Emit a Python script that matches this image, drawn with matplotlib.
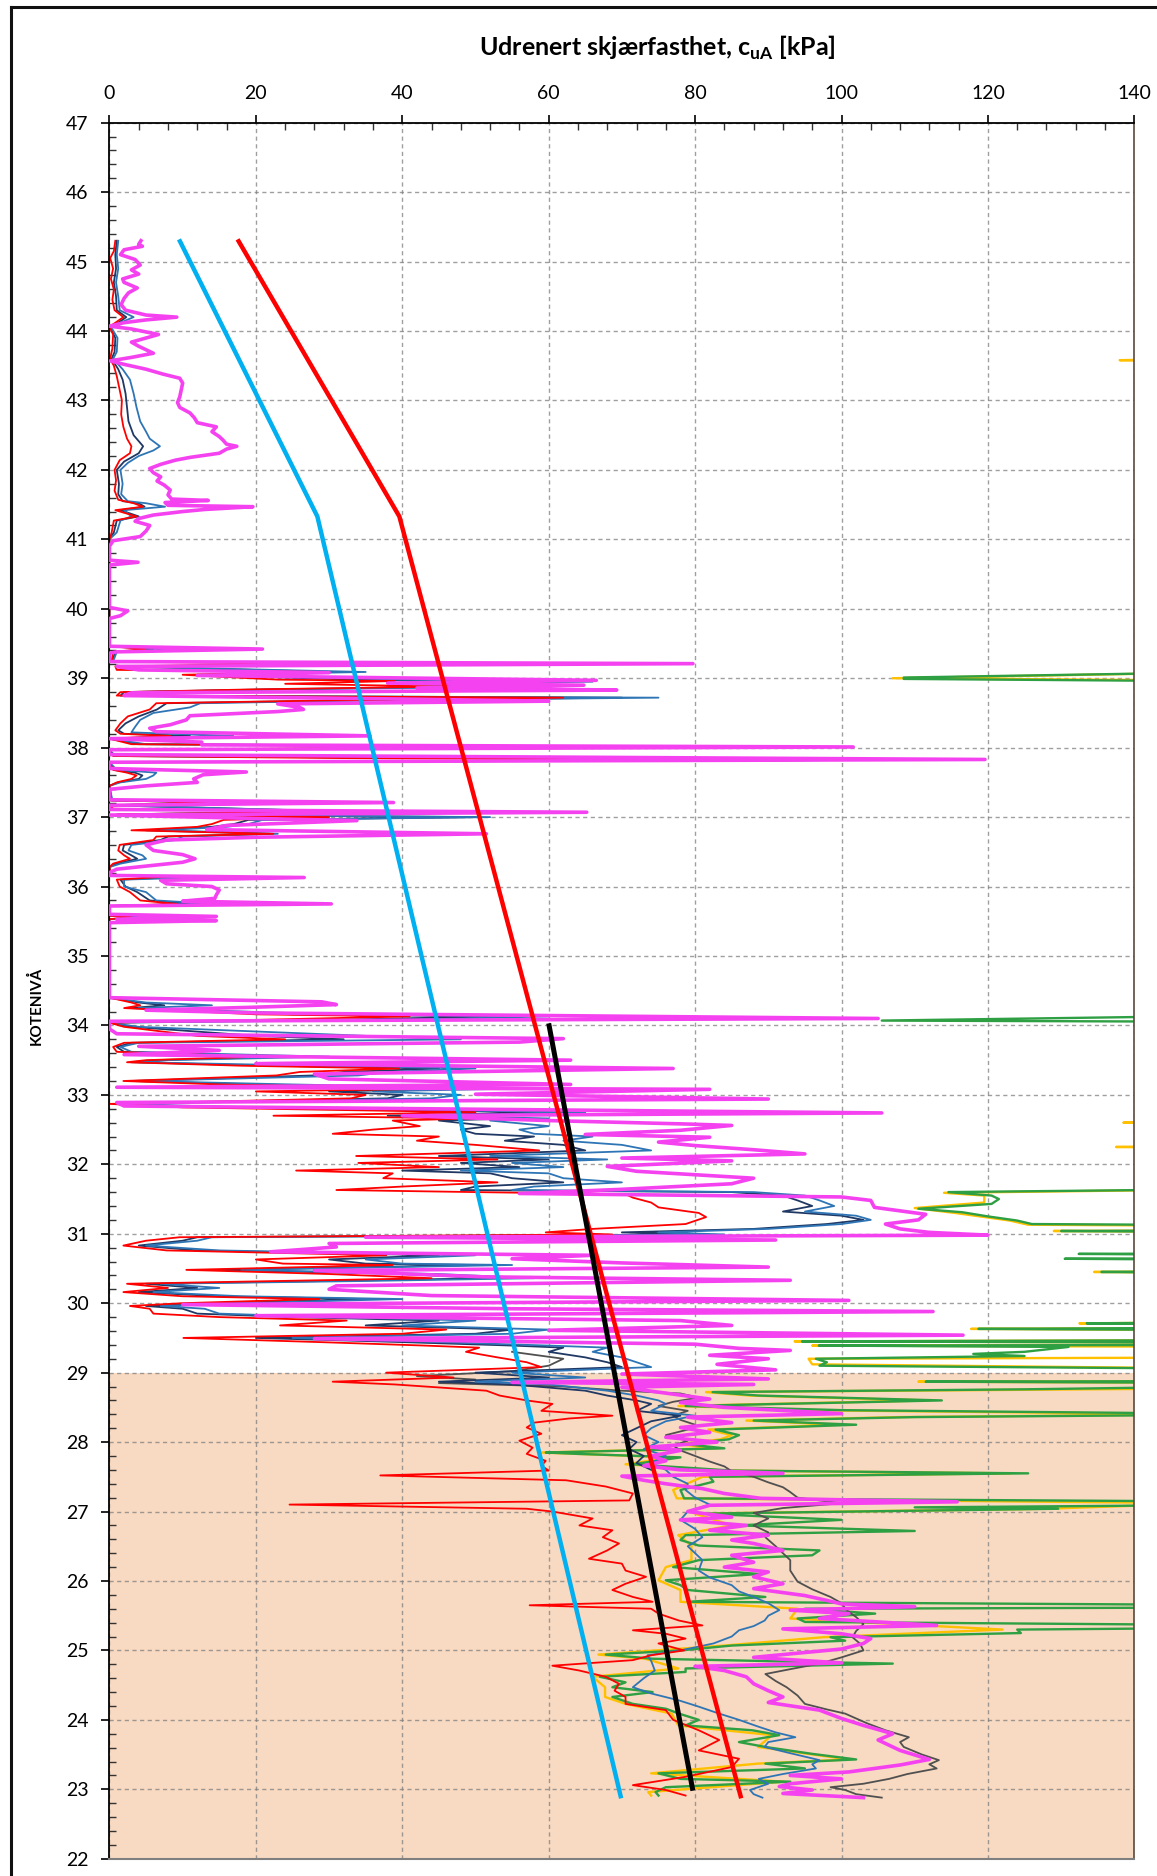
import matplotlib
matplotlib.use("Agg")
import matplotlib.pyplot as plt
from matplotlib.lines import Line2D
from matplotlib.patches import Rectangle
from matplotlib.ticker import MultipleLocator

plt.rcParams["font.family"] = ["Lato", "DejaVu Sans"]
plt.rcParams["mathtext.fontset"] = "custom"
plt.rcParams["mathtext.rm"] = "Lato"
plt.rcParams["mathtext.bf"] = "Lato:bold"

# ---- data: (elevation, cuA) pairs ----
pink_pts = [
    (45.30, 4.3), (45.25, 4.0), (45.22, 4.5), (45.17, 2.0), (45.10, 1.5), (45.03, 3.5), (44.95, 4.2),
    (44.88, 3.0), (44.82, 4.0), (44.75, 1.8), (44.70, 2.0), (44.62, 3.8), (44.55, 2.6), (44.47, 2.0),
    (44.38, 1.6), (44.30, 2.2), (44.23, 5.0), (44.20, 9.2), (44.16, 5.0), (44.12, 2.0), (44.07, 0.0),
    (44.03, 3.0), (43.95, 6.7), (43.90, 5.0), (43.84, 3.0), (43.78, 4.0), (43.68, 6.0), (43.62, 3.0),
    (43.57, 0.1), (43.52, 2.0), (43.45, 5.0), (43.38, 7.3), (43.32, 9.6), (43.25, 10.0), (43.15, 9.8),
    (43.05, 9.6), (42.97, 9.3), (42.90, 9.6), (42.82, 11.0), (42.75, 11.6), (42.68, 12.0), (42.62, 14.6),
    (42.55, 14.0), (42.48, 15.0), (42.43, 15.5), (42.37, 16.0), (42.34, 17.4), (42.30, 16.0), (42.24, 15.0),
    (42.18, 11.0), (42.14, 9.0), (42.08, 7.0), (42.02, 5.5), (41.96, 6.0), (41.90, 7.0), (41.84, 6.5),
    (41.78, 7.5), (41.71, 8.3), (41.64, 8.0), (41.58, 8.5), (41.56, 13.5), (41.53, 7.6), (41.49, 8.0),
    (41.47, 19.6), (41.43, 13.0), (41.40, 10.0), (41.35, 6.0), (41.30, 4.0), (41.26, 3.5), (41.20, 5.5),
    (41.12, 5.0), (41.04, 4.2), (40.98, 0.5), (40.90, 0.0), (40.70, 0.0), (40.67, 3.9), (40.63, 0.0),
    (40.02, 0.0), (39.97, 2.5), (39.90, 1.5), (39.86, 0.0), (39.46, 0.0), (39.42, 20.9), (39.38, 1.0),
    (39.36, 0.0), (39.24, 0.0), (39.21, 79.7), (39.17, 1.0), (39.12, 4.0), (39.08, 30.0), (39.04, 12.0),
    (38.97, 66.5), (38.93, 38.0), (38.90, 64.8), (38.86, 42.0), (38.83, 69.3), (38.79, 3.0), (38.75, 2.0),
    (38.70, 40.0), (38.67, 60.0), (38.63, 23.0), (38.58, 26.0), (38.55, 26.5), (38.52, 23.0), (38.46, 11.0),
    (38.40, 10.5), (38.33, 8.3), (38.28, 5.5), (38.23, 6.4), (38.17, 35.6), (38.13, 0.0), (38.08, 12.6),
    (38.04, 12.6), (38.01, 101.6), (37.97, 0.0), (37.90, 0.0), (37.83, 119.6), (37.79, 0.0), (37.70, 0.0),
    (37.65, 18.7), (37.61, 12.8), (37.55, 11.5), (37.50, 12.0), (37.45, 5.0), (37.40, 0.0), (37.25, 0.0),
    (37.21, 38.8), (37.17, 0.0), (37.11, 0.0), (37.07, 65.2), (37.03, 0.0), (36.98, 20.0), (36.95, 33.8),
    (36.88, 16.0), (36.82, 13.3), (36.76, 51.5), (36.71, 20.0), (36.67, 7.8), (36.60, 5.0), (36.52, 6.0),
    (36.46, 10.0), (36.40, 11.7), (36.35, 10.0), (36.30, 5.5), (36.25, 1.0), (36.20, 0.0), (36.16, 0.0),
    (36.13, 26.6), (36.09, 7.0), (36.04, 7.8), (36.00, 14.0), (35.95, 15.0), (35.88, 14.6), (35.83, 14.4),
    (35.79, 10.0), (35.75, 30.3), (35.72, 0.0), (35.60, 0.0), (35.57, 14.6), (35.53, 1.0), (35.51, 14.6),
    (35.48, 0.0), (34.40, 0.0), (34.34, 29.0), (34.30, 31.0), (34.26, 19.0), (34.22, 5.0), (34.18, 20.0),
    (34.10, 105.0), (34.06, 0.0), (33.95, 0.0), (33.88, 1.0), (33.81, 62.0), (33.76, 56.0), (33.70, 4.0),
    (33.64, 15.0), (33.58, 2.0), (33.50, 63.0), (33.45, 20.0), (33.38, 77.0), (33.30, 28.0), (33.23, 30.0),
    (33.15, 63.0), (33.11, 1.0), (33.08, 82.0), (33.01, 50.0), (32.94, 90.0), (32.89, 1.0), (32.84, 2.0),
    (32.74, 105.5), (32.70, 40.0), (32.63, 60.0), (32.58, 79.0), (32.56, 85.0), (32.49, 78.0), (32.43, 65.0),
    (32.39, 82.0), (32.32, 75.0), (32.27, 80.0), (32.21, 88.0), (32.15, 95.0), (32.09, 70.0), (32.05, 85.0),
    (31.97, 68.0), (31.90, 72.0), (31.80, 88.0), (31.72, 85.0), (31.64, 70.0), (31.58, 56.0), (31.53, 100.0),
    (31.48, 104.0), (31.38, 104.5), (31.28, 111.5), (31.20, 110.5), (31.14, 106.0), (31.07, 108.0),
    (31.02, 112.0), (30.98, 120.0), (30.95, 35.0), (30.91, 91.0), (30.86, 30.0), (30.81, 31.0), (30.74, 22.0),
    (30.69, 66.0), (30.64, 55.0), (30.58, 70.0), (30.52, 90.0), (30.47, 28.0), (30.38, 51.0), (30.33, 93.0),
    (30.25, 31.0), (30.20, 30.0), (30.11, 44.0), (30.04, 101.0), (29.98, 10.0), (29.92, 55.0), (29.88, 112.5),
    (29.82, 20.0), (29.75, 78.0), (29.68, 85.0), (29.61, 60.0), (29.54, 116.6), (29.49, 28.0), (29.41, 80.0),
    (29.35, 86.0), (29.32, 93.0), (29.25, 82.0), (29.20, 90.0), (29.12, 83.0), (29.04, 91.0), (28.98, 70.0),
    (28.91, 90.0), (28.86, 55.0), (28.83, 88.0), (28.79, 70.0), (28.69, 77.0), (28.62, 82.0), (28.57, 78.0),
    (28.50, 84.0), (28.41, 100.0), (28.36, 79.0), (28.28, 85.0), (28.21, 78.0), (28.14, 82.0), (28.07, 76.0),
    (28.00, 83.0), (27.93, 74.0), (27.88, 78.0), (27.80, 74.0), (27.73, 76.0), (27.66, 73.0), (27.60, 78.0),
    (27.55, 92.0), (27.51, 70.0), (27.45, 73.0), (27.40, 76.0), (27.33, 81.0), (27.26, 84.0), (27.19, 89.0),
    (27.14, 115.8), (27.09, 82.0), (27.00, 79.0), (26.92, 85.0), (26.88, 78.0), (26.80, 87.0), (26.73, 82.0),
    (26.66, 90.0), (26.59, 85.0), (26.54, 88.0), (26.44, 92.0), (26.37, 85.0), (26.27, 88.0), (26.20, 84.0),
    (26.13, 90.0), (26.06, 88.0), (25.96, 92.0), (25.89, 88.0), (25.79, 95.0), (25.72, 98.0), (25.67, 100.0),
    (25.63, 110.0), (25.58, 93.0), (25.53, 101.0), (25.46, 97.0), (25.36, 113.0), (25.31, 92.0), (25.24, 100.0),
    (25.17, 104.0), (25.10, 103.0), (25.02, 100.0), (24.98, 96.0), (24.90, 88.0), (24.82, 100.0), (24.77, 80.0),
    (24.71, 84.0), (24.62, 87.0), (24.52, 88.0), (24.42, 90.0), (24.33, 92.0), (24.25, 90.0), (24.14, 97.0),
    (24.02, 100.0), (23.92, 103.0), (23.80, 107.0), (23.71, 105.0), (23.56, 108.0), (23.43, 112.0),
    (23.35, 108.0), (23.25, 101.0), (23.20, 93.0), (23.15, 100.0), (23.08, 93.0), (23.04, 91.5), (22.99, 96.0),
    (22.94, 92.0), (22.88, 103.0),
]

red_pts = [
    (45.30, 0.8), (45.15, 0.6), (45.05, 0.1), (44.90, 0.5), (44.75, 0.2), (44.60, 0.6), (44.45, 0.4),
    (44.30, 0.7), (44.20, 1.9), (44.12, 0.8), (44.06, 0.0), (43.95, 0.5), (43.75, 0.4), (43.60, 0.1),
    (43.50, 0.6), (43.35, 1.0), (43.20, 1.3), (43.00, 1.7), (42.80, 1.6), (42.62, 1.9), (42.45, 2.4),
    (42.34, 3.0), (42.24, 2.8), (42.14, 1.4), (42.00, 0.7), (41.85, 0.9), (41.70, 0.7), (41.57, 1.2),
    (41.52, 3.3), (41.47, 4.6), (41.42, 0.8), (41.33, 3.7), (41.27, 0.6), (41.10, 0.3), (41.00, 0.0),
    (39.46, 0.0), (39.42, 4.9), (39.38, 0.5), (39.24, 0.3), (39.21, 28.0), (39.17, 0.8), (39.12, 1.0),
    (39.09, 29.0), (39.05, 10.0), (38.98, 23.0), (38.96, 39.0), (38.92, 24.0), (38.88, 46.0), (38.84, 20.0),
    (38.80, 1.5), (38.75, 1.0), (38.72, 62.0), (38.68, 30.0), (38.64, 6.4), (38.55, 5.5), (38.45, 2.5),
    (38.35, 1.5), (38.25, 0.8), (38.20, 1.5), (38.17, 8.3), (38.13, 0.0), (38.05, 3.0), (38.01, 60.0),
    (37.97, 0.0), (37.88, 0.5), (37.85, 32.0), (37.82, 95.0), (37.79, 0.0), (37.68, 0.5), (37.64, 2.4),
    (37.60, 3.7), (37.55, 3.0), (37.50, 1.0), (37.45, 0.0), (37.24, 0.2), (37.21, 14.6), (37.17, 0.0),
    (37.12, 0.5), (37.08, 31.0), (37.04, 1.0), (37.00, 30.0), (36.96, 15.6), (36.90, 14.0), (36.86, 12.0),
    (36.81, 3.0), (36.76, 22.4), (36.72, 6.4), (36.67, 6.0), (36.60, 1.4), (36.52, 1.2), (36.45, 2.0),
    (36.40, 2.8), (36.33, 0.5), (36.28, 0.0), (36.16, 0.2), (36.14, 7.4), (36.10, 1.0), (36.00, 1.4),
    (35.92, 2.8), (35.80, 4.2), (35.75, 9.2), (35.72, 0.0), (35.58, 0.0), (35.56, 3.0), (35.53, 0.0),
    (34.40, 0.0), (34.33, 3.0), (34.29, 4.2), (34.25, 2.0), (34.16, 20.0), (34.13, 41.0), (34.08, 20.0),
    (34.04, 0.0), (33.98, 2.0), (33.85, 12.0), (33.80, 24.0), (33.75, 2.0), (33.69, 0.5), (33.62, 1.0),
    (33.55, 20.5), (33.50, 5.0), (33.47, 2.4), (33.42, 18.0), (33.38, 39.6), (33.33, 26.0), (33.28, 22.8),
    (33.20, 1.9), (33.15, 15.0), (33.09, 46.0), (33.05, 20.0), (33.00, 35.0), (32.95, 33.0), (32.87, 0.0),
    (32.82, 10.0), (32.75, 50.0), (32.70, 22.4), (32.66, 49.6), (32.63, 38.7), (32.55, 42.4), (32.50, 36.0),
    (32.44, 30.5), (32.40, 45.0), (32.34, 42.0), (32.28, 50.0), (32.20, 58.7), (32.12, 33.7), (32.07, 53.0),
    (32.02, 34.0), (31.96, 45.0), (31.91, 25.5), (31.87, 38.7), (31.80, 37.4), (31.74, 53.0), (31.68, 40.0),
    (31.63, 31.0), (31.60, 50.0), (31.57, 70.5), (31.52, 71.5), (31.45, 74.0), (31.38, 75.0), (31.30, 80.5),
    (31.24, 81.5), (31.14, 78.7), (31.07, 66.0), (31.02, 59.6), (30.99, 68.7), (30.95, 9.6), (30.90, 5.0),
    (30.83, 1.9), (30.76, 7.8), (30.69, 37.8), (30.63, 20.0), (30.57, 23.7), (30.55, 38.7), (30.48, 10.5),
    (30.42, 30.0), (30.36, 44.0), (30.32, 22.8), (30.28, 2.4), (30.22, 8.0), (30.16, 1.9), (30.10, 10.0),
    (30.06, 28.7), (30.00, 10.0), (29.96, 2.8), (29.92, 5.5), (29.85, 6.0), (29.80, 15.0), (29.75, 32.4),
    (29.68, 23.3), (29.62, 46.0), (29.56, 40.0), (29.50, 10.1), (29.44, 28.7), (29.39, 43.0), (29.36, 50.5),
    (29.30, 48.7), (29.22, 53.0), (29.15, 57.0), (29.08, 59.0), (29.00, 37.8), (28.93, 47.0), (28.87, 30.5),
    (28.83, 39.0), (28.74, 51.5), (28.67, 53.3), (28.60, 57.0), (28.55, 60.5), (28.45, 59.0), (28.38, 68.7),
    (28.34, 62.8), (28.28, 58.0), (28.21, 57.0), (28.12, 59.0), (28.02, 56.0), (27.92, 57.8), (27.83, 57.0),
    (27.73, 59.6), (27.66, 59.0), (27.59, 60.0), (27.52, 37.0), (27.45, 62.4), (27.36, 67.8), (27.26, 71.5),
    (27.16, 71.0), (27.10, 24.6), (27.04, 57.0), (27.00, 60.5), (26.90, 66.0), (26.80, 64.2), (26.73, 68.7),
    (26.63, 67.4), (26.54, 69.6), (26.44, 68.0), (26.32, 65.5), (26.25, 70.0), (26.15, 70.5), (26.06, 73.3),
    (25.96, 70.5), (25.87, 68.7), (25.77, 71.5), (25.70, 74.2), (25.65, 57.4), (25.60, 74.0), (25.53, 75.0),
    (25.43, 77.8), (25.36, 81.0), (25.29, 71.5), (25.24, 76.0), (25.17, 78.7), (25.10, 75.0), (25.00, 78.5),
    (24.93, 74.0), (24.86, 71.5), (24.78, 60.5), (24.71, 64.2), (24.62, 67.8), (24.52, 69.6), (24.42, 69.0),
    (24.33, 70.5), (24.23, 70.5), (24.14, 76.0), (24.00, 77.0), (23.85, 80.5), (23.71, 83.3), (23.56, 80.5),
    (23.44, 86.0), (23.32, 85.0), (23.18, 78.7), (23.06, 71.5), (22.99, 76.0), (22.91, 78.7),
]

navy_pts = [
    (45.30, 1.0), (45.10, 0.8), (44.90, 0.9), (44.70, 0.6), (44.50, 0.9), (44.30, 1.0), (44.20, 2.3),
    (44.12, 1.2), (44.06, 0.1), (43.90, 0.8), (43.70, 0.7), (43.60, 0.3), (43.45, 1.2), (43.30, 1.8),
    (43.10, 2.2), (42.90, 2.4), (42.70, 2.6), (42.50, 3.3), (42.34, 4.6), (42.24, 4.0), (42.12, 2.0),
    (42.00, 1.0), (41.80, 1.3), (41.65, 1.2), (41.55, 1.8), (41.52, 4.0), (41.47, 4.8), (41.42, 1.5),
    (41.33, 4.0), (41.27, 1.0), (41.10, 0.6), (41.00, 0.0), (39.46, 0.0), (39.42, 6.0), (39.38, 0.8),
    (39.24, 0.4), (39.21, 40.0), (39.17, 1.0), (39.09, 31.0), (39.05, 12.0), (38.98, 33.0), (38.95, 60.0),
    (38.92, 40.0), (38.88, 52.0), (38.84, 22.0), (38.80, 2.0), (38.75, 1.5), (38.72, 70.0), (38.68, 32.0),
    (38.64, 7.8), (38.55, 6.5), (38.45, 4.0), (38.35, 2.2), (38.25, 1.2), (38.20, 2.0), (38.17, 11.0),
    (38.13, 0.0), (38.05, 4.0), (38.01, 70.0), (37.97, 0.0), (37.88, 0.6), (37.82, 96.0), (37.79, 0.0),
    (37.68, 0.6), (37.64, 3.5), (37.60, 4.5), (37.55, 4.0), (37.50, 1.2), (37.45, 0.0), (37.24, 0.3),
    (37.21, 15.0), (37.17, 0.0), (37.08, 32.0), (37.04, 1.2), (37.00, 50.0), (36.96, 19.0), (36.90, 17.0),
    (36.86, 14.0), (36.81, 5.0), (36.76, 22.0), (36.72, 8.0), (36.67, 7.0), (36.60, 2.0), (36.52, 1.8),
    (36.45, 3.0), (36.40, 3.8), (36.33, 1.0), (36.28, 0.0), (36.16, 0.2), (36.14, 9.9), (36.10, 1.5),
    (36.00, 2.2), (35.92, 3.8), (35.80, 5.5), (35.75, 11.0), (35.72, 0.0), (35.58, 0.0), (35.56, 4.0),
    (35.53, 0.0), (34.40, 0.0), (34.33, 4.0), (34.29, 7.5), (34.25, 3.0), (34.16, 25.0), (34.13, 53.0),
    (34.08, 30.0), (34.04, 0.0), (33.98, 3.0), (33.85, 20.0), (33.80, 32.0), (33.75, 3.0), (33.69, 1.0),
    (33.62, 2.0), (33.55, 25.0), (33.50, 6.0), (33.47, 3.0), (33.42, 22.0), (33.38, 45.0), (33.33, 32.0),
    (33.28, 28.0), (33.20, 3.0), (33.15, 20.0), (33.09, 50.0), (33.05, 30.0), (33.00, 40.0), (32.95, 38.0),
    (32.87, 1.0), (32.82, 15.0), (32.75, 60.0), (32.70, 38.0), (32.66, 55.0), (32.63, 45.0), (32.55, 52.0),
    (32.50, 48.0), (32.44, 50.0), (32.40, 58.0), (32.34, 54.0), (32.28, 62.0), (32.20, 65.0), (32.12, 45.0),
    (32.07, 60.0), (32.02, 48.0), (31.96, 56.0), (31.91, 40.0), (31.87, 52.0), (31.80, 55.0), (31.74, 62.0),
    (31.68, 50.0), (31.63, 48.0), (31.60, 85.0), (31.55, 92.0), (31.48, 94.0), (31.40, 96.0), (31.32, 92.0),
    (31.26, 100.0), (31.20, 103.0), (31.14, 98.0), (31.07, 88.0), (31.02, 70.0), (30.99, 80.0), (30.95, 12.0),
    (30.90, 10.0), (30.83, 4.0), (30.76, 12.0), (30.69, 45.0), (30.63, 30.0), (30.57, 35.0), (30.55, 50.0),
    (30.48, 15.0), (30.42, 40.0), (30.36, 52.0), (30.32, 30.0), (30.28, 5.0), (30.22, 12.0), (30.16, 4.0),
    (30.10, 15.0), (30.06, 35.0), (30.00, 15.0), (29.96, 5.0), (29.92, 10.0), (29.85, 12.0), (29.80, 25.0),
    (29.75, 45.0), (29.68, 35.0), (29.62, 55.0), (29.56, 50.0), (29.50, 20.0), (29.44, 40.0), (29.39, 55.0),
    (29.36, 62.0), (29.30, 60.0), (29.22, 65.0), (29.15, 68.0), (29.08, 70.0), (29.00, 50.0), (28.93, 60.0),
    (28.87, 45.0), (28.83, 55.0), (28.74, 65.0), (28.67, 68.0), (28.60, 72.0), (28.55, 74.0), (28.45, 72.0),
    (28.38, 78.0), (28.30, 74.0), (28.20, 72.0), (28.10, 70.0), (28.00, 72.0), (27.90, 71.0), (27.80, 73.0),
    (27.70, 72.0), (27.60, 74.0),
]

blue_pts = [
    (45.30, 1.2), (45.10, 1.0), (44.90, 1.2), (44.70, 0.9), (44.50, 1.2), (44.30, 1.4), (44.20, 3.3),
    (44.12, 1.5), (44.06, 0.2), (43.90, 1.1), (43.70, 1.0), (43.60, 0.5), (43.45, 1.8), (43.30, 2.8),
    (43.10, 3.3), (42.90, 3.7), (42.70, 4.2), (42.55, 5.0), (42.45, 5.5), (42.34, 6.9), (42.28, 6.0),
    (42.20, 4.0), (42.10, 2.5), (42.00, 1.5), (41.80, 1.8), (41.65, 1.6), (41.55, 2.5), (41.52, 5.0),
    (41.47, 7.6), (41.42, 2.0), (41.33, 3.0), (41.27, 1.5), (41.10, 1.0), (41.00, 0.0), (39.46, 0.0),
    (39.42, 9.6), (39.38, 1.0), (39.24, 0.5), (39.21, 45.0), (39.17, 1.0), (39.09, 35.0), (39.05, 14.0),
    (38.98, 40.0), (38.95, 66.0), (38.92, 44.0), (38.88, 56.0), (38.84, 24.0), (38.80, 2.5), (38.75, 2.0),
    (38.72, 75.0), (38.68, 35.0), (38.64, 12.4), (38.58, 11.0), (38.50, 6.0), (38.40, 4.2), (38.30, 3.5),
    (38.22, 3.0), (38.17, 16.9), (38.13, 0.0), (38.05, 5.0), (38.01, 75.0), (37.97, 0.0), (37.88, 0.8),
    (37.82, 97.0), (37.79, 0.0), (37.68, 1.0), (37.64, 6.4), (37.60, 6.0), (37.55, 5.0), (37.50, 1.5),
    (37.45, 0.0), (37.24, 0.4), (37.21, 16.0), (37.17, 0.0), (37.08, 33.0), (37.04, 1.5), (37.00, 52.0),
    (36.96, 20.9), (36.90, 19.0), (36.86, 16.0), (36.81, 7.0), (36.76, 23.0), (36.72, 10.0), (36.67, 9.0),
    (36.60, 3.0), (36.52, 2.6), (36.45, 4.5), (36.40, 5.0), (36.33, 1.5), (36.28, 0.0), (36.16, 0.3),
    (36.14, 15.3), (36.10, 2.0), (36.00, 2.0), (35.92, 5.0), (35.80, 6.4), (35.75, 14.4), (35.72, 0.0),
    (35.58, 0.0), (35.56, 5.0), (35.53, 0.0), (34.40, 0.0), (34.33, 5.0), (34.29, 14.0), (34.25, 4.0),
    (34.16, 30.0), (34.13, 60.0), (34.08, 40.0), (34.04, 0.0), (33.98, 4.0), (33.85, 35.0), (33.80, 48.0),
    (33.75, 4.0), (33.69, 1.5), (33.62, 3.0), (33.55, 30.0), (33.50, 8.0), (33.47, 4.0), (33.42, 28.0),
    (33.38, 50.0), (33.33, 38.0), (33.28, 34.0), (33.20, 4.0), (33.15, 25.0), (33.09, 55.0), (33.05, 36.0),
    (33.00, 48.0), (32.95, 44.0), (32.87, 2.0), (32.82, 18.0), (32.75, 65.0), (32.70, 44.0), (32.66, 60.0),
    (32.63, 52.0), (32.55, 60.0), (32.50, 56.0), (32.44, 58.0), (32.40, 66.0), (32.34, 62.0), (32.28, 70.0),
    (32.20, 74.0), (32.12, 52.0), (32.07, 68.0), (32.02, 55.0), (31.96, 62.0), (31.91, 48.0), (31.87, 60.0),
    (31.80, 62.0), (31.74, 70.0), (31.68, 58.0), (31.63, 55.0), (31.60, 88.0), (31.55, 95.0), (31.48, 97.0),
    (31.40, 99.0), (31.32, 95.0), (31.26, 102.0), (31.20, 104.0), (31.14, 100.0), (31.07, 90.0), (31.02, 75.0),
    (30.99, 84.0), (30.95, 14.0), (30.90, 12.0), (30.83, 5.0), (30.76, 15.0), (30.69, 50.0), (30.63, 35.0),
    (30.57, 40.0), (30.55, 55.0), (30.48, 18.0), (30.42, 45.0), (30.36, 58.0), (30.32, 35.0), (30.28, 7.0),
    (30.22, 15.0), (30.16, 6.0), (30.10, 18.0), (30.06, 40.0), (30.00, 18.0), (29.96, 7.0), (29.92, 13.0),
    (29.85, 15.0), (29.80, 30.0), (29.75, 50.0), (29.68, 40.0), (29.62, 60.0), (29.56, 55.0), (29.50, 25.0),
    (29.44, 45.0), (29.39, 60.0), (29.36, 68.0), (29.30, 66.0), (29.22, 70.0), (29.15, 72.0), (29.08, 74.0),
    (29.00, 55.0), (28.93, 65.0), (28.87, 50.0), (28.83, 60.0), (28.74, 68.0), (28.67, 72.0), (28.60, 75.0),
    (28.55, 76.0), (28.45, 74.0), (28.38, 80.0), (28.30, 76.0), (28.20, 74.0), (28.10, 73.0), (28.00, 75.0),
    (27.90, 73.0), (27.80, 76.0), (27.70, 74.0), (27.60, 76.0), (27.50, 77.0), (27.40, 79.0), (27.31, 78.7),
    (27.20, 80.0), (27.10, 82.0), (27.00, 79.0), (26.88, 78.0), (26.75, 80.0), (26.63, 81.0), (26.50, 79.0),
    (26.40, 80.0), (26.30, 81.0), (26.15, 80.5), (26.05, 82.0), (25.94, 85.0), (25.85, 86.0), (25.77, 88.0),
    (25.68, 90.0), (25.58, 91.5), (25.50, 90.0), (25.43, 89.5), (25.35, 88.0), (25.29, 86.0), (25.20, 85.0),
    (25.10, 82.5), (25.00, 78.0), (24.93, 73.5), (24.85, 74.0), (24.71, 74.5), (24.60, 73.0), (24.47, 71.5),
    (24.38, 74.0), (24.28, 77.8), (24.19, 80.5), (24.10, 83.0), (24.00, 86.0), (23.90, 88.7), (23.82, 91.0),
    (23.75, 93.7), (23.68, 90.0), (23.61, 89.5), (23.52, 93.0), (23.42, 97.0), (23.36, 96.0), (23.30, 96.5),
    (23.22, 92.0), (23.15, 88.7), (23.08, 90.0), (22.99, 87.5), (22.93, 88.0), (22.88, 89.2),
]

gray_pts = [
    (29.30, 55.0), (29.20, 62.0), (29.10, 60.0), (29.02, 55.0), (28.95, 42.0), (28.90, 50.0), (28.85, 45.0),
    (28.80, 62.0), (28.74, 70.0), (28.70, 78.0), (28.64, 80.5), (28.58, 77.0), (28.52, 75.0), (28.45, 79.0),
    (28.38, 77.0), (28.32, 78.0), (28.25, 80.0), (28.18, 79.0), (28.10, 76.0), (28.02, 79.0), (27.95, 77.0),
    (27.88, 78.0), (27.80, 80.0), (27.72, 82.0), (27.65, 84.0), (27.58, 85.0), (27.50, 88.0), (27.42, 90.0),
    (27.35, 92.0), (27.28, 93.0), (27.20, 94.0), (27.12, 100.0), (27.05, 92.0), (26.98, 88.0), (26.90, 90.0),
    (26.80, 88.0), (26.70, 90.0), (26.63, 89.6), (26.50, 91.0), (26.40, 92.0), (26.30, 93.0), (26.15, 93.0),
    (25.99, 94.0), (25.88, 96.0), (25.77, 98.5), (25.68, 100.0), (25.58, 100.7), (25.48, 102.0), (25.38, 103.0),
    (25.28, 102.0), (25.19, 101.5), (25.10, 102.5), (25.00, 103.0), (24.90, 100.0), (24.81, 97.0), (24.73, 93.0),
    (24.66, 89.6), (24.56, 91.0), (24.47, 92.5), (24.35, 94.0), (24.23, 95.0), (24.15, 98.0), (24.09, 100.5),
    (23.95, 103.5), (23.85, 106.0), (23.75, 109.2), (23.68, 108.0), (23.61, 108.5), (23.50, 111.0),
    (23.42, 113.3), (23.36, 112.0), (23.30, 113.0), (23.22, 109.0), (23.15, 106.5), (23.08, 103.0),
    (23.03, 98.5), (22.99, 100.5), (22.93, 102.0), (22.88, 105.5),
]

# 160 = reading beyond the right edge of the chart
green_pts = [
    (39.10, 160), (39.01, 108.5), (38.99, 108.5), (38.95, 160), (34.15, 160), (34.07, 105.5), (34.05, 160),
    (31.65, 160), (31.60, 114.6), (31.55, 120.5), (31.50, 121.5), (31.43, 120.5), (31.36, 110.5), (31.31, 116.5),
    (31.25, 120.0), (31.19, 124.0), (31.14, 126.0), (31.12, 160), (31.05, 160), (31.04, 130.0), (31.02, 160),
    (30.72, 160), (30.71, 132.4), (30.69, 160), (30.65, 160), (30.64, 130.5), (30.62, 160), (30.47, 160),
    (30.45, 135.5), (30.43, 160), (29.73, 160), (29.71, 133.5), (29.69, 160), (29.65, 160), (29.63, 118.7),
    (29.61, 160), (29.47, 160), (29.45, 94.6), (29.43, 160), (29.40, 160), (29.39, 96.9), (29.37, 131.0),
    (29.30, 125.0), (29.27, 118.0), (29.24, 125.0), (29.20, 96.5), (29.15, 98.0), (29.10, 97.0), (29.05, 160),
    (28.88, 160), (28.87, 111.5), (28.85, 160), (28.81, 160), (28.76, 125.0), (28.72, 82.4), (28.67, 88.7),
    (28.60, 113.7), (28.52, 78.7), (28.46, 100.0), (28.40, 160), (28.36, 110.0), (28.31, 88.0), (28.25, 102.0),
    (28.18, 82.8), (28.10, 86.0), (28.04, 84.6), (27.97, 78.7), (27.91, 84.0), (27.85, 59.6), (27.83, 64.0),
    (27.78, 78.0), (27.68, 71.5), (27.59, 85.0), (27.55, 125.5), (27.50, 82.0), (27.43, 82.5), (27.31, 78.0),
    (27.19, 78.5), (27.14, 160), (27.10, 160), (27.06, 110.0), (27.04, 129.6), (26.97, 81.0), (26.88, 100.0),
    (26.80, 86.0), (26.72, 110.0), (26.66, 78.7), (26.59, 78.0), (26.51, 80.5), (26.44, 97.0), (26.37, 96.0),
    (26.30, 80.5), (26.20, 77.0), (26.10, 88.7), (26.01, 76.0), (25.94, 78.0), (25.87, 79.0), (25.77, 89.6),
    (25.70, 79.0), (25.65, 160), (25.62, 160), (25.60, 95.0), (25.53, 104.6), (25.46, 94.0), (25.41, 95.0),
    (25.36, 160), (25.33, 160), (25.30, 124.0), (25.25, 124.5), (25.19, 98.5), (25.14, 100.5), (25.07, 85.0),
    (25.00, 78.0), (24.94, 67.8), (24.88, 74.2), (24.81, 107.0), (24.74, 78.7), (24.69, 78.7), (24.62, 67.0),
    (24.54, 70.5), (24.47, 68.7), (24.40, 74.2), (24.33, 68.7), (24.23, 71.5), (24.16, 76.0), (24.09, 77.8),
    (24.00, 80.5), (23.92, 78.7), (23.85, 87.8), (23.78, 91.5), (23.68, 86.0), (23.61, 89.6), (23.51, 96.0),
    (23.43, 102.0), (23.37, 89.6), (23.30, 95.0), (23.23, 75.0), (23.15, 78.0), (23.11, 93.0), (23.03, 76.0),
    (22.96, 74.6), (22.91, 75.0),
]

orange_pts = [
    (43.62, 160), (43.58, 138.0), (43.55, 160), (39.10, 160), (39.00, 107.0), (38.96, 160),
    (32.64, 160), (32.60, 138.5), (32.57, 160), (32.28, 160), (32.25, 137.5), (32.22, 160),
    (31.65, 160), (31.59, 114.0), (31.55, 119.5), (31.45, 119.5), (31.37, 110.0), (31.30, 115.5),
    (31.19, 123.0), (31.13, 125.5), (31.11, 160), (31.05, 160), (31.04, 129.0), (31.02, 160),
    (30.47, 160), (30.45, 134.5), (30.43, 160), (29.73, 160), (29.71, 132.5), (29.69, 160),
    (29.65, 160), (29.63, 117.7), (29.61, 160), (29.47, 160), (29.45, 93.6), (29.43, 160),
    (29.40, 160), (29.39, 96.0), (29.37, 160), (29.22, 160), (29.20, 95.5), (29.12, 96.0), (29.05, 160),
    (28.88, 160), (28.87, 110.5), (28.85, 160), (28.78, 160), (28.72, 81.5), (28.67, 87.5), (28.60, 112.0),
    (28.52, 77.7), (28.46, 95.0), (28.40, 150.0), (28.36, 108.0), (28.31, 87.0), (28.25, 100.0),
    (28.18, 81.8), (28.10, 85.0), (28.04, 83.5), (27.97, 77.7), (27.91, 83.0), (27.85, 58.8), (27.78, 77.0),
    (27.68, 70.5), (27.59, 84.0), (27.55, 123.0), (27.50, 81.0), (27.31, 77.0), (27.19, 77.5), (27.12, 150.0),
    (27.04, 128.0), (26.97, 80.0), (26.80, 85.0), (26.66, 77.7), (26.51, 79.5), (26.30, 79.5), (26.20, 76.0),
    (26.01, 75.0), (25.87, 78.0), (25.70, 78.0), (25.60, 94.0), (25.46, 93.0), (25.30, 122.0), (25.19, 97.5),
    (25.07, 84.0), (24.94, 66.8), (24.88, 73.2), (24.74, 77.7), (24.62, 66.0), (24.47, 67.7), (24.33, 67.7),
    (24.23, 70.5), (24.09, 76.8), (23.92, 77.7), (23.78, 90.5), (23.61, 88.6), (23.43, 101.0), (23.37, 88.6),
    (23.23, 74.0), (23.11, 92.0), (22.96, 73.6), (22.91, 74.0),
]

design_red_z = [45.32, 41.33, 22.87]
design_red_x = [17.5, 39.6, 86.3]
design_cyan_z = [45.32, 41.33, 22.87]
design_cyan_x = [9.5, 28.4, 69.9]
design_black_z = [34.03, 22.98]
design_black_x = [60.0, 79.7]

shade_bottom = 22
shade_top = 29
x_ticks = list(range(0, 141, 20))
y_ticks = list(range(22, 48))


def xs(pts):
    return [p[1] for p in pts]


def zs(pts):
    return [p[0] for p in pts]


fig = plt.figure(figsize=(11.57, 18.76), dpi=100, facecolor="white")
ax = fig.add_axes([0.0946, 0.0092, 0.8858, 0.9254])
ax.set_facecolor("white")
ax.patch.set_alpha(1.0)
ax.set_xlim(0, 140)
ax.set_ylim(22, 47)
ax.set_autoscale_on(False)

# shaded zone below elevation 29
ax.add_patch(Rectangle((0, shade_bottom), 140, shade_top - shade_bottom,
                       facecolor="#F8D9C1", edgecolor="none", zorder=0.2))

ax.plot(xs(orange_pts), zs(orange_pts), color="#FFC000", lw=1.7, zorder=2)
ax.plot(xs(green_pts), zs(green_pts), color="#2EA043", lw=1.7, zorder=2.1)
ax.plot(xs(gray_pts), zs(gray_pts), color="#505050", lw=1.3, zorder=2.2)
ax.plot(xs(navy_pts), zs(navy_pts), color="#203864", lw=1.3, zorder=2.3)
ax.plot(xs(blue_pts), zs(blue_pts), color="#2E75B6", lw=1.3, zorder=2.4)
ax.plot(xs(red_pts), zs(red_pts), color="#FF0000", lw=1.3, zorder=2.5)
ax.plot(xs(pink_pts), zs(pink_pts), color="#F542F0", lw=2.6, zorder=2.6)

ax.plot(design_cyan_x, design_cyan_z, color="#00B0F0", lw=3.2, zorder=3, solid_capstyle="butt")
ax.plot(design_red_x, design_red_z, color="#FF0000", lw=3.2, zorder=3, solid_capstyle="butt")
ax.plot(design_black_x, design_black_z, color="#000000", lw=3.6, zorder=3.1, solid_capstyle="butt")

ax.xaxis.tick_top()
ax.set_xticks(x_ticks)
ax.set_yticks(y_ticks)
ax.xaxis.set_minor_locator(MultipleLocator(4))
ax.yaxis.set_minor_locator(MultipleLocator(0.2))
ax.tick_params(which="major", direction="out", length=6, width=1.2, labelsize=14, pad=9, colors="black")
ax.tick_params(which="minor", direction="in", length=5, width=1.0, colors="#333333")
ax.tick_params(axis="x", which="both", top=True, bottom=False)
ax.tick_params(axis="y", which="both", left=True, right=False)

ax.grid(True, which="major", color="#7F7F7F", alpha=0.75, lw=1.0, linestyle=(0, (3, 2.5)))

ax.spines["left"].set_color("black")
ax.spines["left"].set_linewidth(1.3)
ax.spines["top"].set_color("black")
ax.spines["top"].set_linewidth(1.3)
ax.spines["right"].set_color("#5A4A40")
ax.spines["right"].set_linewidth(1.2)
ax.spines["bottom"].set_color("#7F7F7F")
ax.spines["bottom"].set_linewidth(1.5)

fig.text(0.568, 0.9745, r"Udrenert skjærfasthet, c$_{\mathbf{uA}}$ [kPa]",
         ha="center", va="center", fontsize=18, fontweight="bold")
fig.text(0.031, 0.464, "KOTENIVÅ", rotation=90, ha="center", va="center",
         fontsize=11, fontweight="bold")

# outer frame (top and left edges visible)
fig.add_artist(Line2D([10.5 / 1157, 1.0], [1 - 7.5 / 1876, 1 - 7.5 / 1876],
                      transform=fig.transFigure, color="#111111", lw=2.2))
fig.add_artist(Line2D([10.5 / 1157, 10.5 / 1157], [0.0, 1 - 7.5 / 1876],
                      transform=fig.transFigure, color="#111111", lw=2.2))

fig.savefig("out.png", dpi=100, facecolor="white")
